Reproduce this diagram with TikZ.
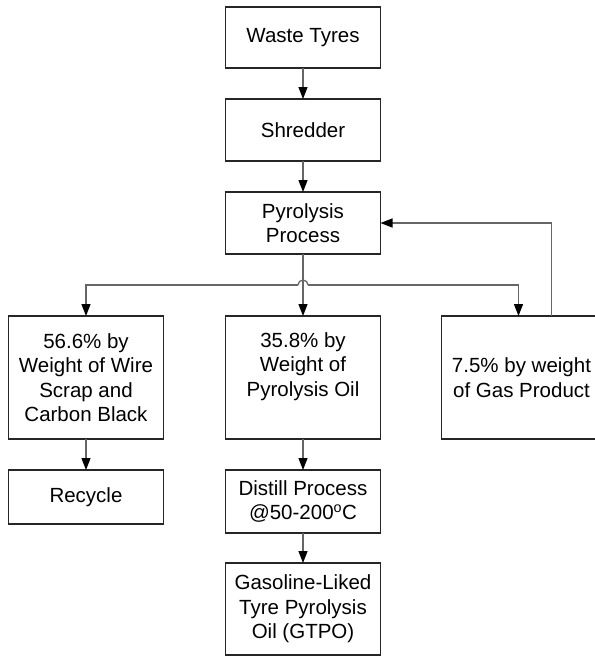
\documentclass[tikz,border=0pt]{standalone}
\usepackage{fontspec}
\setmainfont{Liberation Sans}
\usepackage{tikz}
\usetikzlibrary{arrows.meta, positioning, calc}

\begin{document}
\begin{tikzpicture}[x=1pt, y=1pt, node distance=31pt,
    box/.style={draw=black!85, line width=1.2pt, outer sep=0pt, minimum width=155pt, minimum height=62pt, align=center, inner sep=2pt, font=\fontsize{20.5}{24.5}\selectfont},
    flow/.style={draw=black!60, line width=1.3pt},
    arr/.style={flow, -{Triangle[length=12pt, width=9pt, color=black]}}]
        \useasboundingbox (0,0) rectangle (595,-657);
        \node[box, minimum height=61pt] (waste) at (303,-37.5) {Waste Tyres};
        \node[box] (shred) [below=of waste] {Shredder};
        \node[box] (pyro) [below=of shred] {Pyrolysis\\Process};
        \node[box, minimum height=123pt] (oil) [below=62pt of pyro] {35.8\% by\\Weight of\\Pyrolysis Oil\\[2pt]};
        \node[box, minimum height=123pt] (wire) [left=62pt of oil] {56.6\% by\\Weight of Wire\\Scrap and\\Carbon Black};
        \node[box, minimum height=123pt, minimum width=160pt] (gas) [right=61pt of oil] {7.5\% by weight\\of Gas Product};
        \node[box, minimum height=54pt] (recycle) [below=of wire] {Recycle};
        \node[box, minimum height=63pt] (distill) [below=of oil] {Distill Process\\@50-200\textsuperscript{o}C};
        \node[box, minimum height=92pt] (gtpo) [below=30pt of distill] {Gasoline-Liked\\Tyre Pyrolysis\\Oil (GTPO)};

        \coordinate (hop) at ($(pyro.south)!0.5!(oil.north)$);

        \draw[arr] (waste) -- (shred);
        \draw[arr] (shred) -- (pyro);
        \draw[arr] (pyro) -- (oil);
        \draw[arr] ([xshift=-5pt]hop) -| (wire);
        \draw[flow] ([xshift=-5pt]hop) arc[start angle=180, end angle=0, radius=5pt];
        \draw[arr] ([xshift=5pt]hop) -| ([xshift=-3pt]gas.north);
        \draw[arr] ([xshift=30pt]gas.north) |- (pyro);
        \draw[arr] (wire) -- (recycle);
        \draw[arr] (oil) -- (distill);
        \draw[arr] (distill) -- (gtpo);
    \end{tikzpicture}
\end{document}
